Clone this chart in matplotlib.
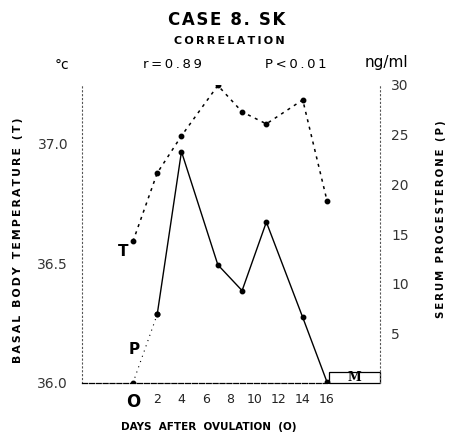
import matplotlib
matplotlib.use("Agg")
import matplotlib.pyplot as plt
from matplotlib.patches import Rectangle

# values
days = [0, 2, 4, 7, 9, 11, 14, 16]
temp = [36.59, 36.875, 37.03, 37.24, 37.13, 37.08, 37.18, 36.76]   # basal body temperature, deg C
prog = [0.0, 6.9, 23.3, 11.9, 9.3, 16.2, 6.6, 0.1]                # serum progesterone, ng/ml
temp_ticks = [36.0, 36.5, 37.0]
prog_ticks = [5, 10, 15, 20, 25, 30]
day_ticks = [0, 2, 4, 6, 8, 10, 12, 14, 16]
day_labels = ["O", "2", "4", "6", "8", "10", "12", "14", "16"]


def spaced(s, gap="\u2009"):
    # fake letter spacing like the old typewriter lettering
    return gap.join(s)


W, H = 449, 434
fig = plt.figure(figsize=(W / 100, H / 100), dpi=100)
ax = fig.add_axes([82 / W, 1 - 383 / H, 298 / W, 298 / H])
ax2 = ax.twinx()

xlo, xhi = -4.2, 20.37
ax.set_xlim(xlo, xhi)
ax.set_ylim(36.0, 37.242)
ax2.set_ylim(0, 30.0)

# temperature: dotted
ax.plot(days, temp, color="black", lw=1.1, ls=(0, (2, 3)),
        marker="o", ms=3.2, mfc="black", mec="black")
# progesterone: solid, first leg dotted
ax2.plot(days[1:], prog[1:], color="black", lw=1.0, marker="o", ms=3.2)
ax2.plot(days[:2], prog[:2], color="black", lw=0.8, ls=(0, (1, 4)), marker="o", ms=3.2)

# spines
for a in (ax, ax2):
    a.spines["top"].set_visible(False)
ax.spines["right"].set_visible(False)
ax2.spines["left"].set_visible(False)
ax2.spines["bottom"].set_visible(False)
ax.spines["left"].set_linestyle((0, (1, 2.5)))
ax.spines["left"].set_color("#555555")
ax.spines["left"].set_linewidth(0.8)
ax2.spines["right"].set_linestyle((0, (1, 2.5)))
ax2.spines["right"].set_color("#555555")
ax2.spines["right"].set_linewidth(0.8)
ax.spines["bottom"].set_bounds(xlo, days[-1])
ax.spines["bottom"].set_linestyle((0, (4, 1.5)))
ax.spines["bottom"].set_linewidth(0.9)

# ticks
ax.set_yticks(temp_ticks)
ax.set_yticklabels([f"{t:.1f}" for t in temp_ticks])
ax2.set_yticks(prog_ticks)
ax2.set_yticklabels([str(p) for p in prog_ticks])
ax.set_xticks(day_ticks)
ax.set_xticklabels(day_labels)
ax.tick_params(axis="y", length=0, pad=10, labelsize=10, labelcolor="#333333")
ax2.tick_params(axis="y", length=0, pad=8, labelsize=10, labelcolor="#333333")
ax.tick_params(axis="x", length=0, pad=7, labelsize=9, labelcolor="#222222")
first = ax.get_xticklabels()[0]
first.set_fontweight("bold")
first.set_fontsize(12)
first.set_color("black")

# menses box
ax2.add_patch(Rectangle((16.2, 0), xhi - 16.2, 1.1, fill=False, ec="black",
                        lw=0.9, clip_on=False))
ax2.text(18.3, 0.55, "M", ha="center", va="center", fontsize=9,
         fontweight="bold", family="DejaVu Serif")

# curve letters
ax.text(-0.82, 36.55, "T", ha="center", va="center", fontsize=11, fontweight="bold")
ax.text(0.08, 36.14, "P", ha="center", va="center", fontsize=11, fontweight="bold")

# titles and labels
fig.text(227 / W, 1 - 20 / H, spaced("CASE 8. SK", "\u200a"), ha="center", va="center",
         fontsize=12, fontweight="bold")
fig.text(229 / W, 1 - 41 / H, spaced("CORRELATION"), ha="center", va="center",
         fontsize=8, fontweight="bold")
fig.text(62 / W, 1 - 65 / H, "°c", ha="center", va="center", fontsize=10)
fig.text(172 / W, 1 - 64 / H, spaced("r=0.89"), ha="center", va="center", fontsize=9.5)
fig.text(296 / W, 1 - 64 / H, spaced("P<0.01"), ha="center", va="center", fontsize=9.5)
fig.text(386 / W, 1 - 62 / H, "ng/ml", ha="center", va="center", fontsize=11)

fig.text(209 / W, 1 - 427 / H, "DAYS  AFTER  OVULATION  (O)", ha="center",
         va="center", fontsize=7.5, fontweight="bold")
fig.text(18 / W, 1 - 240 / H, spaced("BASAL BODY TEMPERATURE (T)"), ha="center",
         va="center", rotation=90, fontsize=7.8, fontweight="bold")
fig.text(441 / W, 1 - 219 / H, spaced("SERUM PROGESTERONE (P)"), ha="center",
         va="center", rotation=90, fontsize=7.3, fontweight="bold")

fig.savefig("out.png", dpi=100)
